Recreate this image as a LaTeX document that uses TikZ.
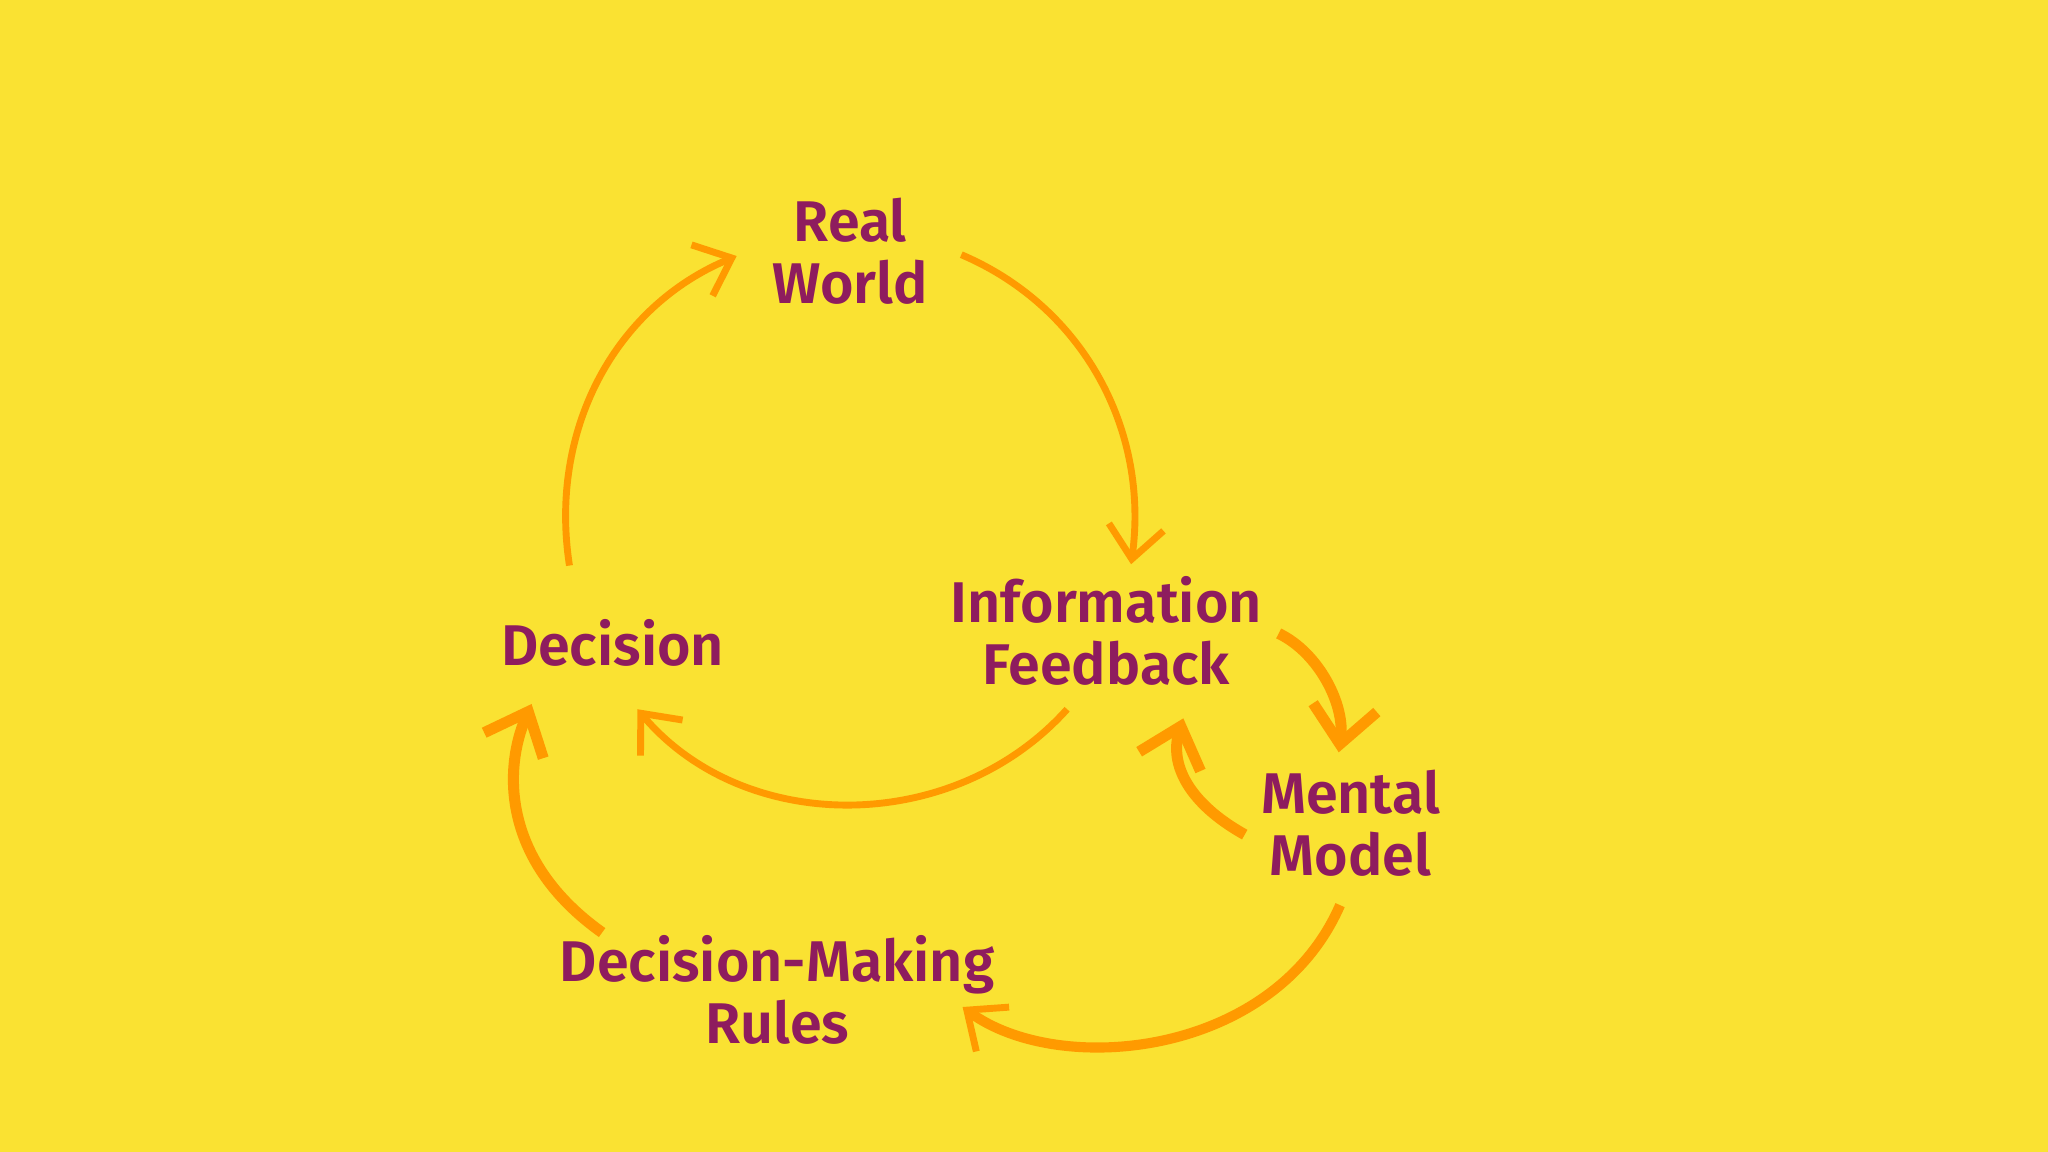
\documentclass[tikz,border=0pt]{standalone}
\usepackage{fontspec}
\setmainfont{Fira Sans}[UprightFont=* SemiBold]
\usetikzlibrary{arrows.meta}
\definecolor{bg}{HTML}{FAE232}
\definecolor{txt}{HTML}{8E1C5E}
\definecolor{arr}{HTML}{FF9A00}
\begin{document}
\begin{tikzpicture}[x=0.01cm,y=-0.01cm,
  lbl/.style={text=txt,align=center,font=\fontsize{12.5}{13.5}\selectfont},
  thin/.style={draw=arr,line width=1.5pt,-{Straight Barb[length=7pt,width=12pt,line width=1.5pt]}},
  thick/.style={draw=arr,line width=2.4pt,-{Straight Barb[length=8pt,width=14pt,line width=2.4pt]}}]
\fill[bg] (0,0) rectangle (1568,882);
\useasboundingbox (0,0) rectangle (1568,882);
\node[lbl] (rw) at (651,192) {Real\\World};
\node[lbl] (if) at (847,483) {Information\\Feedback};
\node[lbl] (de) at (469,492) {Decision};
\node[lbl] (mm) at (1034,630) {Mental\\Model};
\node[lbl] (dr) at (595,758) {Decision-Making\\Rules};
\coordinate (a1) at (436,433); \coordinate (b1) at (564,196);
\coordinate (a2) at (736,195); \coordinate (b2) at (866,432);
\coordinate (a3) at (817,543); \coordinate (b3) at (488,543);
\coordinate (a4) at (979,485); \coordinate (b4) at (1025,576);
\coordinate (a5) at (953,639); \coordinate (b5) at (906,550);
\coordinate (a6) at (1026,693); \coordinate (b6) at (737,771);
\coordinate (a7) at (461,714); \coordinate (b7) at (407,539);
\draw[thin] (a1) .. controls (420,330) and (470,235) .. (b1);
\draw[thin] (a2) .. controls (830,235) and (880,330) .. (b2);
\draw[thin] (a3) .. controls (730,640) and (570,640) .. (b3);
\draw[thick] (a4) .. controls (1010,500) and (1030,540) .. (b4);
\draw[thick] (a5) .. controls (910,615) and (895,585) .. (b5);
\draw[thin,line width=2.2pt] (a6) .. controls (975,810) and (810,825) .. (b6);
\draw[thick] (a7) .. controls (385,660) and (385,590) .. (b7);
\end{tikzpicture}
\end{document}
